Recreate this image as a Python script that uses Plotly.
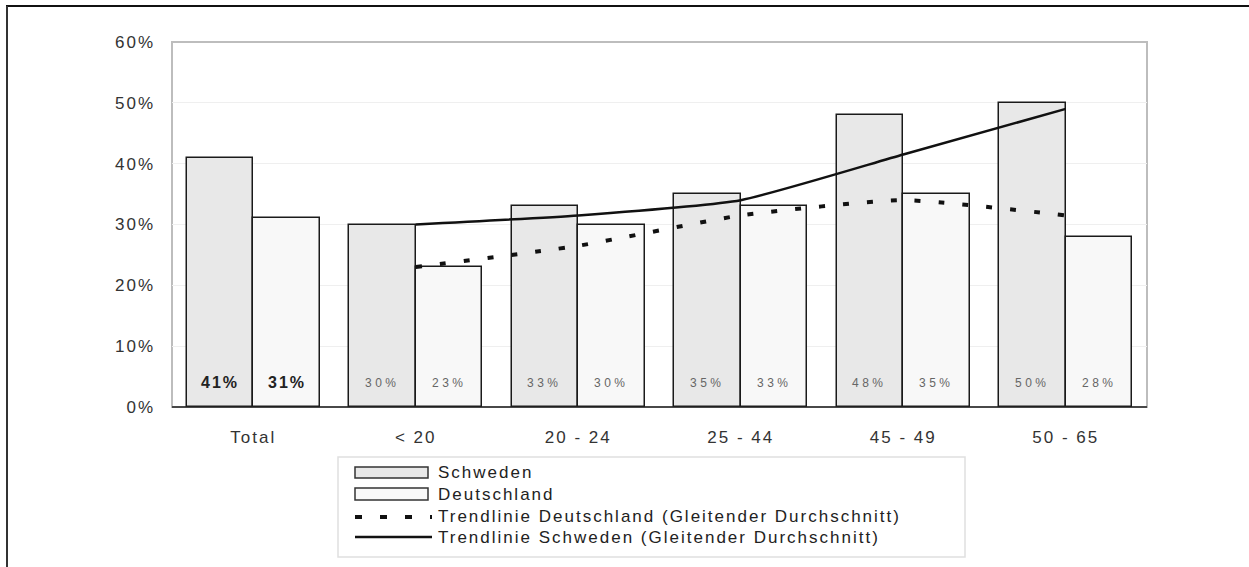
import plotly.graph_objects as go

# Age groups and shares (percent)
categories = ["Total", "< 20", "20 - 24", "25 - 44", "45 - 49", "50 - 65"]
schweden = [41, 30, 33, 35, 48, 50]
deutschland = [31, 23, 30, 33, 35, 28]

# Moving-average trend lines (from "< 20" onwards)
trend_categories = ["< 20", "20 - 24", "25 - 44", "45 - 49", "50 - 65"]
trend_schweden = [30, 31.5, 34, 41.5, 49]
trend_deutschland = [23, 26.5, 31.5, 34, 31.5]

y_ticks = [0, 10, 20, 30, 40, 50, 60]
legend_labels = [
    "Schweden",
    "Deutschland",
    "Trendlinie Deutschland (Gleitender Durchschnitt)",
    "Trendlinie Schweden (Gleitender Durchschnitt)",
]

FONT = "Liberation Sans, Arial, sans-serif"
W, H = 1249, 567
L, R, T, B = 172, 1147, 42, 407  # plot area in pixels


def spaced(text, px):
    """Wrap text in a span with extra letter spacing."""
    return f'<span style="letter-spacing:{px}px">{text}</span>'


xpos = list(range(len(categories)))
tpos = [categories.index(c) for c in trend_categories]
bw = 0.41
off = bw / 2

fig = go.Figure()
fig.add_bar(x=[p - off for p in xpos], y=schweden, width=bw, name=legend_labels[0],
            marker=dict(color="#e8e8e8", line=dict(color="#1a1a1a", width=1.5)),
            showlegend=False)
fig.add_bar(x=[p + off for p in xpos], y=deutschland, width=bw, name=legend_labels[1],
            marker=dict(color="#f8f8f8", line=dict(color="#1a1a1a", width=1.5)),
            showlegend=False)
fig.add_scatter(x=tpos, y=trend_deutschland, mode="lines", name=legend_labels[2],
                line=dict(color="#111", width=4, dash="6px,18px", shape="spline", smoothing=0.5),
                showlegend=False)
fig.add_scatter(x=tpos, y=trend_schweden, mode="lines", name=legend_labels[3],
                line=dict(color="#111", width=2.5, shape="spline", smoothing=0.5),
                showlegend=False)

# Value labels at the foot of each bar
ann = []
for i, (s, d) in enumerate(zip(schweden, deutschland)):
    for val, dx in ((s, -off), (d, off)):
        if i == 0:
            txt = "<b>" + spaced(f"{val}%", 2) + "</b>"
            fnt = dict(size=16, color="#222", family=FONT)
        else:
            txt = spaced(f"{val}%", 3.5)
            fnt = dict(size=12, color="#666", family=FONT)
        ann.append(dict(x=xpos[i] + dx, y=4, xref="x", yref="y", text=txt,
                        showarrow=False, font=fnt))


def px_x(px):
    return (px - L) / (R - L)


def px_y(py):
    return (B - py) / (B - T)


shapes = []
# outer frame (top and left edges)
shapes.append(dict(type="line", xref="paper", yref="paper", x0=px_x(6), x1=px_x(1249),
                   y0=px_y(6), y1=px_y(6), line=dict(color="#111", width=2)))
shapes.append(dict(type="line", xref="paper", yref="paper", x0=px_x(7), x1=px_x(7),
                   y0=px_y(6), y1=px_y(567), line=dict(color="#333", width=2)))
# plot area frame
shapes.append(dict(type="rect", xref="paper", yref="paper", x0=0, x1=1, y0=0, y1=1,
                   line=dict(color="#bdbdbd", width=2), layer="below"))
# baseline
shapes.append(dict(type="line", xref="paper", yref="paper", x0=0, x1=1, y0=0, y1=0,
                   line=dict(color="#222", width=1.5)))

# legend box
shapes.append(dict(type="rect", xref="paper", yref="paper", x0=px_x(338), x1=px_x(965),
                   y0=px_y(557), y1=px_y(457), line=dict(color="#e0e0e0", width=1.5)))
row_y = [472, 494, 516, 537]
shapes.append(dict(type="rect", xref="paper", yref="paper", x0=px_x(355), x1=px_x(428),
                   y0=px_y(478), y1=px_y(467), fillcolor="#e8e8e8",
                   line=dict(color="#333", width=1.5)))
shapes.append(dict(type="rect", xref="paper", yref="paper", x0=px_x(355), x1=px_x(428),
                   y0=px_y(500), y1=px_y(488), fillcolor="#f8f8f8",
                   line=dict(color="#333", width=1.5)))
shapes.append(dict(type="line", xref="paper", yref="paper", x0=px_x(355), x1=px_x(432),
                   y0=px_y(517), y1=px_y(517),
                   line=dict(color="#111", width=4, dash="7px,18px")))
shapes.append(dict(type="line", xref="paper", yref="paper", x0=px_x(355), x1=px_x(432),
                   y0=px_y(537), y1=px_y(537), line=dict(color="#111", width=2.5)))
for lbl, ry in zip(legend_labels, row_y):
    ann.append(dict(x=px_x(436), y=px_y(ry), xref="paper", yref="paper",
                    text=spaced(lbl, 2), showarrow=False, xanchor="left", yanchor="middle",
                    font=dict(size=17, color="#222", family=FONT)))

fig.update_layout(
    width=W, height=H,
    margin=dict(l=L, r=W - R, t=T, b=H - B),
    paper_bgcolor="white", plot_bgcolor="white",
    barmode="overlay", bargap=0,
    font=dict(family=FONT, color="#333", size=17),
    xaxis=dict(range=[-0.5, len(categories) - 0.5], tickvals=xpos,
               ticktext=[spaced(c, 2) for c in categories],
               showgrid=False, zeroline=False, showline=False, ticks="",
               ticklabelstandoff=18, tickfont=dict(size=17, color="#333")),
    yaxis=dict(range=[0, 60], tickvals=y_ticks,
               ticktext=[spaced(f"{v}%", 2) for v in y_ticks],
               showgrid=True, gridcolor="#efefef", gridwidth=1, zeroline=False,
               showline=False, ticks="", ticklabelstandoff=16,
               tickfont=dict(size=17, color="#333")),
    shapes=shapes,
    annotations=ann,
)

fig.write_html("out.html")
